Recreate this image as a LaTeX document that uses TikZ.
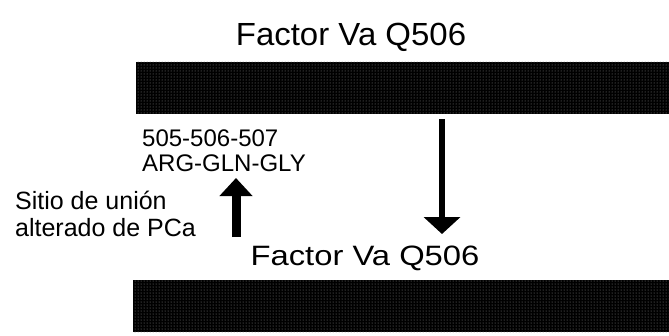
\documentclass[tikz,border=0pt]{standalone}
\usepackage{fontspec}
\setmainfont{Liberation Sans}
\usetikzlibrary{arrows.meta,patterns}
\begin{document}
\begin{tikzpicture}[x=1pt,y=-1pt,
  title/.style={font=\fontsize{32}{36}\selectfont, inner sep=0pt, anchor=base},
  small/.style={font=\fontsize{24}{28}\selectfont, inner sep=0pt, anchor=base west},
  side/.style={font=\fontsize{25}{29}\selectfont, inner sep=0pt, anchor=base west},
  bar/.style={fill=black, draw=none, inner sep=0pt, rectangle},
  speck/.style={pattern=dots, pattern color=black!45},
  uparr/.style={line width=9pt, -{Triangle[width=32pt,length=18pt]}},
  downarr/.style={line width=6pt, -{Triangle[width=36pt,length=17pt]}}
]
\useasboundingbox (0,0) rectangle (669,335);
\node[title] (t1) at (351,45) {\scalebox{1.03}[1]{Factor Va Q506}};
\node[bar, minimum width=533pt, minimum height=52pt] (bar1) at (402.5,88) {};
\fill[speck] (bar1.north west) rectangle (bar1.south east);
\node[small] (n1) at (142,146) {505-506-507};
\node[small] (n2) at (142,171) {ARG-GLN-GLY};
\node[side] (s1) at (15,209) {Sitio de unión};
\node[side] (s2) at (15,236) {alterado de PCa};
\node[title, font=\fontsize{28}{32}\selectfont] (t2) at (365,265) {\scalebox{1.17}[1]{Factor Va Q506}};
\node[bar, minimum width=536pt, minimum height=52pt] (bar2) at (401,306) {};
\fill[speck] (bar2.north west) rectangle (bar2.south east);
\coordinate (upS) at (236,237);
\coordinate (upE) at (236,178);
\coordinate (dS) at (442,119);
\coordinate (dE) at (442,234);
\draw[uparr] (upS) -- (upE);
\draw[downarr] (dS) -- (dE);
\end{tikzpicture}
\end{document}
